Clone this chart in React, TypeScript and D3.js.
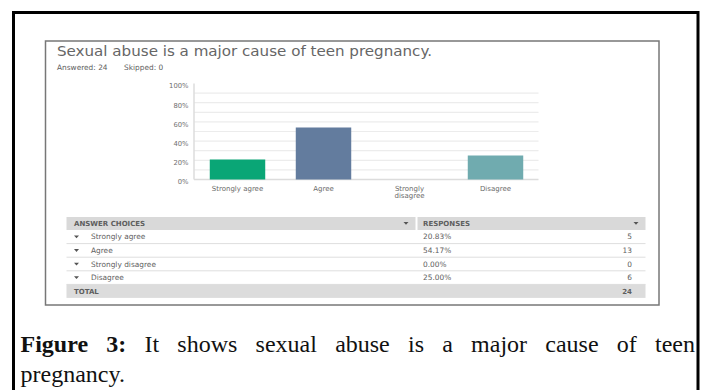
import React, { useLayoutEffect, useRef, useState } from "react";
import * as d3 from "d3";

const categories = ["Strongly agree", "Agree", "Strongly disagree", "Disagree"];
const categoryLabelLines = [["Strongly agree"], ["Agree"], ["Strongly", "disagree"], ["Disagree"]];
const percents = [20.83, 54.17, 0.0, 25.0];
const counts = [5, 13, 0, 6];
const totalCount = 24;
const answered = 24;
const skipped = 0;
const yTicks = [0, 20, 40, 60, 80, 100];
const barColors = ["#0aa676", "#637c9e", "#9aa9bd", "#70abaf"];
const title = "Sexual abuse is a major cause of teen pregnancy.";
const captionBold = "Figure 3:";
const captionLine1 = " It shows sexual abuse is a major cause of teen";
const captionLine2 = "pregnancy.";

const SANS = "'DejaVu Sans', sans-serif";
const SERIF = "'Liberation Serif', 'DejaVu Serif', serif";

function Tri({ cx, cy, fill = "#555" }: { cx: number; cy: number; fill?: string }) {
  return <path d={`M${cx - 2.5},${cy - 1.3}L${cx + 2.5},${cy - 1.3}L${cx},${cy + 1.5}Z`} fill={fill} />;
}

export default function App() {
  const W = 707;
  const H = 390;
  const x = d3
    .scaleBand<string>()
    .domain(categories)
    .range([194.5, 538.5])
    .paddingInner(0.355)
    .paddingOuter(0.1775);
  const y = d3.scaleLinear().domain([0, 100]).range([179.5, 83.5]);
  const grid = d3.range(10, 100, 10);

  const rowY = d3.scaleLinear().domain([0, 1]).range([230, 243.6]);
  const rowH = 13.6;

  const line1Ref = useRef<SVGTextElement>(null);
  const [ws, setWs] = useState(0);
  useLayoutEffect(() => {
    const el = line1Ref.current;
    if (!el) return;
    const len = el.getComputedTextLength();
    const gaps = (captionBold + captionLine1).split(" ").length - 1;
    setWs((695 - 20.5 - len) / gaps);
  }, []);

  const txt = "#5e5e5e";

  return (
    <svg
      width={W}
      height={H}
      style={{ position: "absolute", left: 0, top: 0, background: "#fff" }}
    >
      <rect x={0} y={0} width={W} height={H} fill="#fff" />
      {/* outer frame */}
      <path d="M13.5,395V12.5H698V395" fill="none" stroke="#000" strokeWidth={3} />
      {/* inner screenshot box */}
      <rect x={45.5} y={41} width={613.5} height={264} fill="#fff" stroke="#777" strokeWidth={1.5} />

      {/* title */}
      <text x={57} y={55.5} fontFamily={SANS} fontSize={13.6} fill="#666" textLength={375} lengthAdjust="spacingAndGlyphs">
        {title}
      </text>
      <text x={57} y={70} fontFamily={SANS} fontSize={7.4} fill={txt}>
        {`Answered: ${answered}`}
      </text>
      <text x={124} y={70} fontFamily={SANS} fontSize={7.4} fill={txt}>
        {`Skipped: ${skipped}`}
      </text>

      {/* gridlines */}
      {grid.map((g) => (
        <line key={g} x1={194} x2={538.5} y1={y(g)} y2={y(g)} stroke="#ececec" strokeWidth={1.2} />
      ))}
      <line x1={194} x2={538.5} y1={y(0)} y2={y(0)} stroke="#dcdcdc" strokeWidth={1.5} />
      <line x1={194} x2={194} y1={y(100)} y2={y(0)} stroke="#dcdcdc" strokeWidth={1.5} />

      {/* y tick labels */}
      {yTicks.map((t) => (
        <text key={t} x={188.5} y={y(t) + 4.8} textAnchor="end" fontFamily={SANS} fontSize={6.8} fill="#707070">
          {`${t}%`}
        </text>
      ))}

      {/* bars */}
      {categories.map((c, i) => (
        <rect
          key={c}
          x={x(c)!}
          y={y(percents[i])}
          width={x.bandwidth()}
          height={y(0) - y(percents[i])}
          fill={barColors[i]}
        />
      ))}

      {/* category labels */}
      {categories.map((c, i) =>
        categoryLabelLines[i].map((ln, j) => (
          <text
            key={c + j}
            x={x(c)! + x.bandwidth() / 2}
            y={190.5 + j * 7}
            textAnchor="middle"
            fontFamily={SANS}
            fontSize={7}
            fill="#6a6a6a"
          >
            {ln}
          </text>
        ))
      )}

      {/* table header */}
      <rect x={66.5} y={217} width={349} height={13} fill="#d9d9d9" />
      <rect x={417.5} y={217} width={228} height={13} fill="#d9d9d9" />
      <text x={74} y={226} fontFamily={SANS} fontSize={7} fontWeight="bold" fill={txt}>
        ANSWER CHOICES
      </text>
      <Tri cx={406} cy={223.3} />
      <text x={423} y={226} fontFamily={SANS} fontSize={7} fontWeight="bold" fill={txt}>
        RESPONSES
      </text>
      <Tri cx={636} cy={223.3} />

      {/* table rows */}
      {categories.map((c, i) => {
        const top = rowY(i);
        const mid = top + rowH / 2;
        return (
          <g key={c}>
            <line x1={66.5} x2={645.5} y1={top + rowH} y2={top + rowH} stroke="#dedede" strokeWidth={1} />
            <Tri cx={76.5} cy={mid} />
            <text x={91} y={mid + 2.6} fontFamily={SANS} fontSize={7.4} fill={txt}>
              {c}
            </text>
            <text x={423} y={mid + 2.6} fontFamily={SANS} fontSize={7.4} fill={txt}>
              {`${percents[i].toFixed(2)}%`}
            </text>
            <text x={632} y={mid + 2.6} textAnchor="end" fontFamily={SANS} fontSize={7.4} fill={txt}>
              {counts[i]}
            </text>
          </g>
        );
      })}
      {/* total row */}
      <rect x={66.5} y={rowY(4)} width={579} height={13.5} fill="#dcdcdc" />
      <text x={74} y={rowY(4) + 9.4} fontFamily={SANS} fontSize={7} fontWeight="bold" fill={txt}>
        TOTAL
      </text>
      <text x={632} y={rowY(4) + 9.4} textAnchor="end" fontFamily={SANS} fontSize={7} fontWeight="bold" fill={txt}>
        {totalCount}
      </text>

      {/* caption */}
      <text ref={line1Ref} x={20.5} y={352} fontFamily={SERIF} fontSize={24} fill="#111" wordSpacing={ws}>
        <tspan fontWeight="bold">{captionBold}</tspan>
        <tspan>{captionLine1}</tspan>
      </text>
      <text x={20.5} y={382} fontFamily={SERIF} fontSize={24} fill="#111">
        {captionLine2}
      </text>
    </svg>
  );
}
